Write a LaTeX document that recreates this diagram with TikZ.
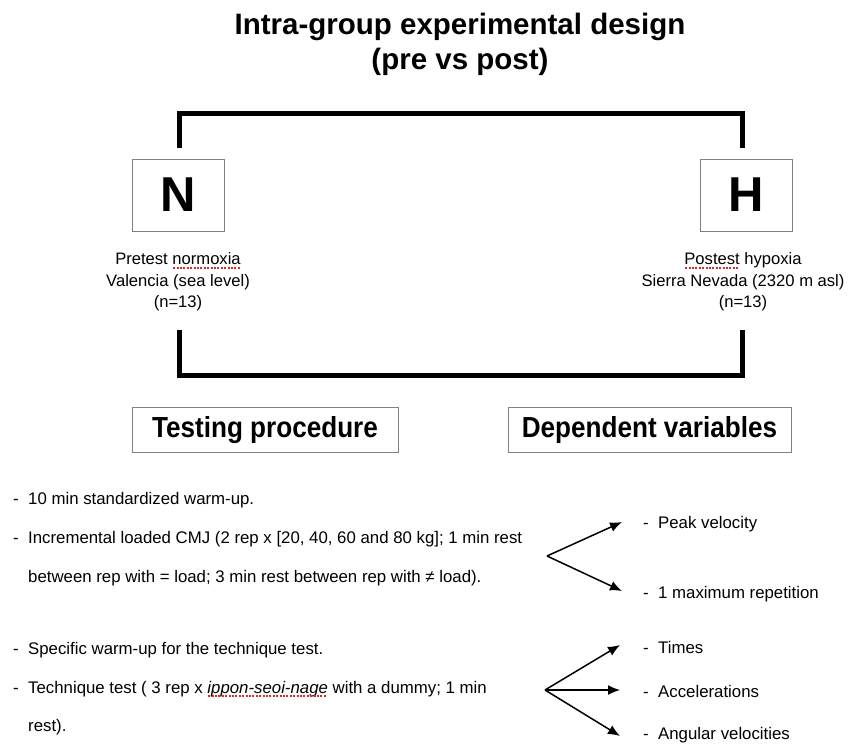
\documentclass[tikz,border=0pt]{standalone}
\usepackage{fontspec}
\setmainfont{Liberation Sans}
\newfontfamily\headfont[FakeStretch=0.9]{Liberation Sans}
\usetikzlibrary{arrows.meta}
\definecolor{boxgray}{HTML}{808080}
\definecolor{squigred}{HTML}{E02828}
\newcommand\squig[1]{\setbox0\hbox{#1}\rlap{\copy0}\raisebox{-4pt}{\color{squigred}\leaders\hbox to 3.4pt{\hss\rule{2pt}{1.7pt}\hss}\hskip\wd0}}
\begin{document}
\begin{tikzpicture}[x=1pt,y=-1pt,
  bracket/.style={line width=5pt},
  framebox/.style={draw=boxgray, line width=1pt, inner sep=0pt},
  letterbox/.style={framebox, minimum width=92pt, minimum height=72pt, font=\bfseries\fontsize{49}{49}\selectfont},
  headbox/.style={framebox, minimum height=45pt, font=\headfont\bfseries\fontsize{29}{29}\selectfont},
  titletext/.style={font=\bfseries\fontsize{29.5}{35}\selectfont, anchor=base, inner sep=0pt},
  labeltext/.style={font=\fontsize{16.6}{21.5}\selectfont, align=center, inner sep=0pt},
  body/.style={font=\fontsize{16.8}{20}\selectfont, inner sep=0pt, anchor=base west},
  arr/.style={-{Latex[length=12pt,width=10pt]}, line width=1.5pt}]
\useasboundingbox (0,0) rectangle (850,744);
% title
\node[titletext] (title1) at (460,34) {Intra-group experimental design};
\node[titletext] (title2) at (460,69) {(pre vs post)};
% condition boxes
\node[letterbox] (N) at (178,195) {N};
\node[letterbox] (H) at (746.5,195) {H};
\node[labeltext] (Nlab) at (178,282) {Pretest \squig{normoxia}\\Valencia (sea level)\\(n=13)};
\node[labeltext] (Hlab) at (743,282) {\squig{Postest} hypoxia\\Sierra Nevada (2320 m asl)\\(n=13)};
% brackets
\coordinate (nt) at (179,148);
\coordinate (ht) at (742,148);
\coordinate (nb) at (179,330);
\coordinate (hb) at (742,330);
\draw[bracket] (nt) -- ++(0,-35) -| (ht);
\draw[bracket] (nb) -- ++(0,45) -| (hb);
% heading boxes
\node[headbox, minimum width=266pt] (tp) at (265,430) {Testing procedure};
\node[headbox, minimum width=283pt] (dv) at (649.5,430) {Dependent variables};
% testing procedure lines
\node[body] (b1) at (13,504) {\makebox[15pt][l]{-}10 min standardized warm-up.};
\node[body] (b2) at (13,543) {\makebox[15pt][l]{-}Incremental loaded CMJ (2 rep x [20, 40, 60 and 80 kg]; 1 min rest};
\node[body] (b3) at (28,582) {between rep with = load; 3 min rest between rep with ≠ load).};
\node[body] (b4) at (13,654) {\makebox[15pt][l]{-}Specific warm-up for the technique test.};
\node[body] (b5) at (13,693) {\makebox[15pt][l]{-}Technique test ( 3 rep x \textit{\squig{ippon-seoi-nage}} with a dummy; 1 min};
\node[body] (b6) at (28,731) {rest).};
% dependent variables
\node[body] (d1) at (643,528) {\makebox[15pt][l]{-}Peak velocity};
\node[body] (d2) at (643,598) {\makebox[15pt][l]{-}1 maximum repetition};
\node[body] (d3) at (643,653) {\makebox[15pt][l]{-}Times};
\node[body] (d4) at (643,697) {\makebox[15pt][l]{-}Accelerations};
\node[body] (d5) at (643,739) {\makebox[15pt][l]{-}Angular velocities};
% arrows
\coordinate (o1) at (547,556);
\coordinate (t1) at (622,522);
\coordinate (t2) at (622,591);
\coordinate (o2) at (545,690);
\coordinate (t3) at (620,645);
\coordinate (t4) at (620,690);
\coordinate (t5) at (620,736);
\draw[arr] (o1) -- (t1);
\draw[arr] (o1) -- (t2);
\draw[arr] (o2) -- (t3);
\draw[arr] (o2) -- (t4);
\draw[arr] (o2) -- (t5);
\end{tikzpicture}
\end{document}
